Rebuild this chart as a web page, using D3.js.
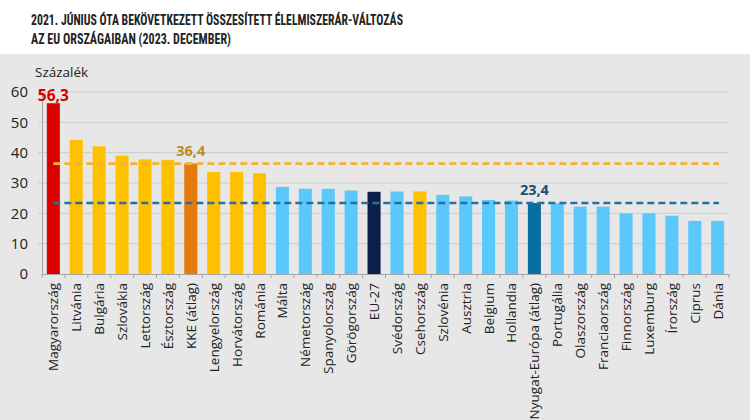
<!DOCTYPE html>
<html><head><meta charset="utf-8">
<script src="https://cdn.jsdelivr.net/npm/d3@7"></script>
<style>
body{margin:0;background:#fff;}
svg{display:block;}
</style></head>
<body><svg id="c" width="750" height="420"></svg>
<script>
const categories = ["Magyarország","Litvánia","Bulgária","Szlovákia","Lettország","Észtország","KKE (átlag)","Lengyelország","Horvátország","Románia","Málta","Németország","Spanyolország","Görögország","EU-27","Svédország","Csehország","Szlovénia","Ausztria","Belgium","Hollandia","Nyugat-Európa (átlag)","Portugália","Olaszország","Franciaország","Finnország","Luxemburg","Írország","Ciprus","Dánia"];
const values = [56.3,44.2,42.1,39.0,37.8,37.6,36.4,33.6,33.6,33.2,28.7,28.1,28.1,27.5,27.1,27.2,27.2,26.1,25.6,24.4,24.2,23.4,23.3,22.2,22.2,20.0,20.0,19.2,17.5,17.5];
const groups = ["hu","cee","cee","cee","cee","cee","ceeavg","cee","cee","cee","west","west","west","west","eu","west","cee","west","west","west","west","westavg","west","west","west","west","west","west","west","west"];
const yTicks = [0,10,20,30,40,50,60];
const refLines = [{value:36.4, label:"36,4", key:"cee"},{value:23.4, label:"23,4", key:"west"}];
const titleLines = ["2021. JÚNIUS ÓTA BEKÖVETKEZETT ÖSSZESÍTETT ÉLELMISZERÁR-VÁLTOZÁS","AZ EU ORSZÁGAIBAN (2023. DECEMBER)"];

const colors = {hu:"#dc0000",cee:"#ffc000",ceeavg:"#e47a0c",west:"#5ac8fa",eu:"#0c1f48",westavg:"#0a6e9e"};
const refColors = {cee:"#f2b330",west:"#24719e"};
const refLabelColors = {cee:"#c08a1c",west:"#1c4e6e"};

const svg = d3.select("#c");
svg.append("rect").attr("x",0).attr("y",54).attr("width",750).attr("height",366).attr("fill","#e7e7e7");

const tf = "'Liberation Sans Narrow','Roboto Condensed','DejaVu Sans Condensed',sans-serif";
const titleW = [372, 200];
svg.selectAll(".title").data(titleLines).join("text")
  .attr("x",31).attr("y",(d,i)=>24.5+i*19)
  .attr("font-family",tf).attr("font-weight","bold").attr("font-size",14.5)
  .attr("textLength",(d,i)=>titleW[i]).attr("lengthAdjust","spacingAndGlyphs")
  .attr("fill","#222").text(d=>d);

const x0 = 42, x1 = 729;
const x = d3.scaleBand().domain(categories).range([x0,x1]).paddingInner(0.43).paddingOuter(0.21);
const y = d3.scaleLinear().domain([0,60]).range([274,92]);
const f = "'Open Sans','Noto Sans',sans-serif";

// gridlines
svg.append("g").selectAll("line").data(yTicks.filter(d=>d>0)).join("line")
  .attr("x1",x0-4).attr("x2",x1).attr("y1",d=>y(d)).attr("y2",d=>y(d))
  .attr("stroke","#cdcdcd").attr("stroke-width",1);

// y axis
const ya = svg.append("g").attr("transform",`translate(${x0},0)`)
  .call(d3.axisLeft(y).tickValues(yTicks).tickSize(0).tickPadding(14));
ya.select(".domain").attr("stroke","#a6a6a6");
ya.selectAll("text").attr("font-family",f).attr("font-size",15).attr("fill","#222");

svg.append("text").attr("x",35).attr("y",77).attr("font-family",f).attr("font-size",13.5).attr("fill","#222").text("Százalék");

// bars
svg.append("g").selectAll("rect").data(categories).join("rect")
  .attr("x",d=>x(d)).attr("width",x.bandwidth())
  .attr("y",(d,i)=>y(values[i])).attr("height",(d,i)=>y(0)-y(values[i]))
  .attr("fill",(d,i)=>colors[groups[i]]);

// x axis
const xa = svg.append("g").attr("transform","translate(0,274)").call(d3.axisBottom(x).tickSize(0).tickFormat(""));
xa.select(".domain").attr("stroke","#a6a6a6");
const bw = (x1-x0)/categories.length;
svg.append("g").selectAll("line").data(d3.range(categories.length+1)).join("line")
  .attr("x1",d=>x0+d*bw).attr("x2",d=>x0+d*bw)
  .attr("y1",274).attr("y2",278).attr("stroke","#a6a6a6");

svg.append("g").selectAll("text").data(categories).join("text")
  .attr("transform",d=>`translate(${x(d)+x.bandwidth()/2+5},283) rotate(-90)`)
  .attr("text-anchor","end").attr("font-family",f).attr("font-size",13.5).attr("fill","#222").text(d=>d);

// reference lines
svg.append("g").selectAll("line").data(refLines).join("line")
  .attr("x1",x(categories[0])+x.bandwidth()/2).attr("x2",719)
  .attr("y1",d=>y(d.value)).attr("y2",d=>y(d.value))
  .attr("stroke",d=>refColors[d.key]).attr("stroke-width",2.6).attr("stroke-dasharray","7,4");

// labels
const labels = [{cat:categories[0], text:"56,3", color:"#d40000", v:values[0], off:2, fs:15.5},
  {cat:categories[6], text:refLines[0].label, color:refLabelColors.cee, v:values[6], off:8, fs:14.5},
  {cat:categories[21], text:refLines[1].label, color:refLabelColors.west, v:values[21], off:8, fs:14.5}];
svg.append("g").selectAll("text").data(labels).join("text")
  .attr("x",d=>x(d.cat)+x.bandwidth()/2).attr("y",d=>y(d.v)-d.off)
  .attr("text-anchor","middle").attr("font-family",f).attr("font-weight","bold").attr("font-size",d=>d.fs)
  .attr("fill",d=>d.color).text(d=>d.text);
</script></body></html>
